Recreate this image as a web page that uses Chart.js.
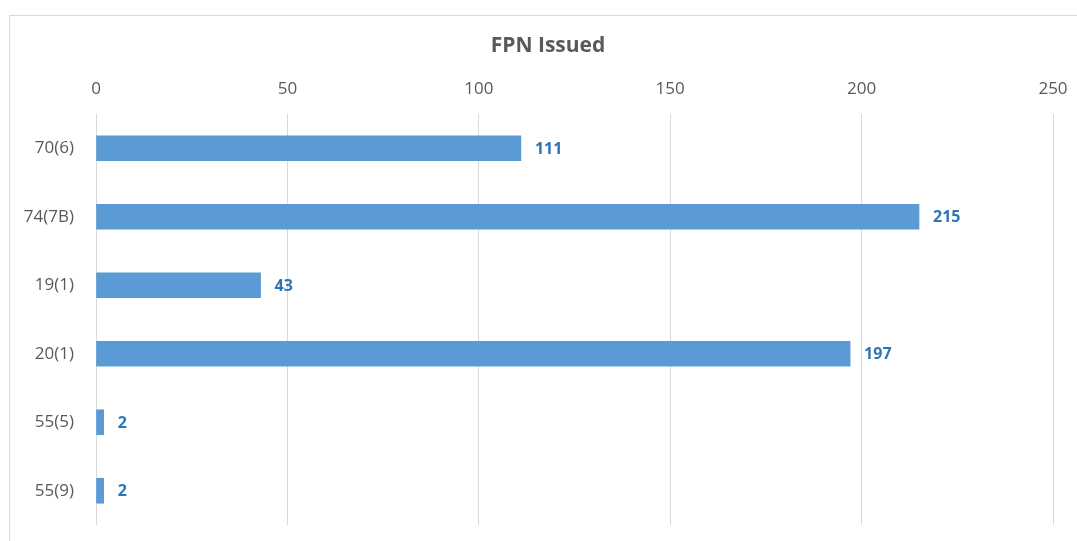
<!DOCTYPE html>
<html>
<head>
<meta charset="utf-8">
<script src="https://cdn.jsdelivr.net/npm/chart.js@4/dist/chart.umd.min.js"></script>
<style>
  html, body { margin: 0; padding: 0; background: #fff; overflow: hidden; }
  #wrap { position: relative; width: 1077px; height: 541px; overflow: hidden; }
  #frame { position: absolute; left: 9px; top: 15px; width: 1200px; height: 700px; border: 1px solid #d9d9d9; box-sizing: border-box; }
  canvas { position: absolute; left: 0; top: 0; }
</style>
</head>
<body>
<div id="wrap">
  <div id="frame"></div>
  <canvas id="c" width="1077" height="541"></canvas>
</div>
<script>
const categories = ['70(6)', '74(7B)', '19(1)', '20(1)', '55(5)', '55(9)'];
const fpnIssued = [111, 215, 43, 197, 2, 2];
const xTicks = [0, 50, 100, 150, 200, 250];
const chartTitle = 'FPN Issued';

const FONT = "'Open Sans', 'Liberation Sans', sans-serif";

const valueLabels = {
  id: 'valueLabels',
  afterDatasetsDraw(chart) {
    const ctx = chart.ctx;
    ctx.save();
    ctx.font = 'bold 16px ' + FONT;
    ctx.fillStyle = '#2E75B6';
    ctx.textAlign = 'left';
    ctx.textBaseline = 'middle';
    chart.getDatasetMeta(0).data.forEach((bar, i) => {
      ctx.fillText(String(chart.data.datasets[0].data[i]), bar.x + 14, bar.y + 1);
    });
    ctx.restore();
  }
};

const titleText = {
  id: 'titleText',
  afterDraw(chart) {
    const ctx = chart.ctx;
    ctx.save();
    ctx.font = 'bold 21px ' + FONT;
    ctx.fillStyle = '#595959';
    ctx.textAlign = 'center';
    ctx.textBaseline = 'middle';
    ctx.fillText(chartTitle, 548, 46);
    ctx.restore();
  }
};

new Chart(document.getElementById('c'), {
  type: 'bar',
  data: {
    labels: categories,
    datasets: [{
      label: chartTitle,
      data: fpnIssued,
      backgroundColor: '#5B9BD5',
      borderWidth: 0,
      barThickness: 25
    }]
  },
  options: {
    indexAxis: 'y',
    responsive: false,
    animation: false,
    devicePixelRatio: 1,
    layout: { padding: { left: 0, right: 24, top: 58.6, bottom: 16 } },
    plugins: {
      legend: { display: false },
      tooltip: { enabled: false },
      title: { display: false }
    },
    scales: {
      x: {
        position: 'top',
        min: xTicks[0],
        max: xTicks[xTicks.length - 1],
        afterBuildTicks(scale) { scale.ticks = xTicks.map(v => ({ value: v })); },
        afterFit(scale) { scale.height = 55.4; scale.paddingLeft = 0; scale.paddingRight = 0; },
        grid: { color: '#d9d9d9', lineWidth: 1, drawTicks: false },
        border: { display: false },
        ticks: {
          color: '#595959',
          font: { family: FONT, size: 17 },
          padding: 15,
          maxRotation: 0
        }
      },
      y: {
        afterFit(scale) { scale.width = 96; scale.paddingTop = 0; scale.paddingBottom = 0; },
        grid: { display: false, drawTicks: false },
        border: { display: false },
        ticks: {
          color: '#595959',
          font: { family: FONT, size: 17 },
          padding: 22
        }
      }
    }
  },
  plugins: [valueLabels, titleText]
});
</script>
</body>
</html>
